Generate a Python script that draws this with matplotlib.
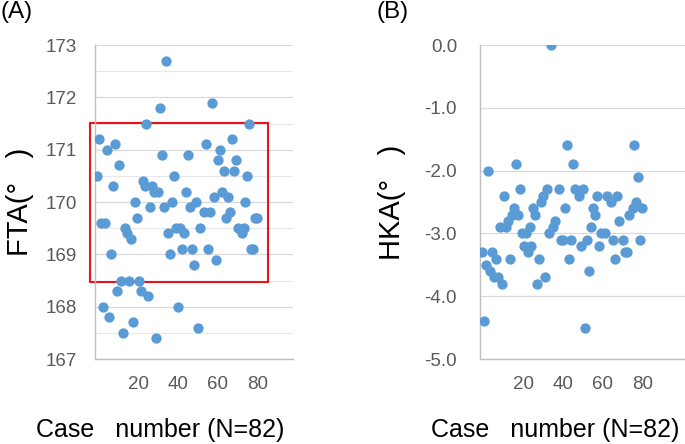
import matplotlib
matplotlib.use("Agg")
import matplotlib.pyplot as plt
from matplotlib.patches import Rectangle
from matplotlib.ticker import MultipleLocator
from matplotlib.transforms import ScaledTranslation

plt.rcParams['font.family'] = ['Liberation Sans', 'DejaVu Sans']
plt.rcParams['axes.unicode_minus'] = False

# (A) femorotibial angle by case
fta_case = [1, 2, 3, 4, 5, 6, 7, 8, 9, 10, 11, 12, 13, 14, 15, 16, 17, 18, 19, 20,
            21, 22, 23, 24, 25, 26, 27, 28, 29, 30, 31, 32, 33, 34, 35, 36, 37, 38, 39, 40,
            41, 42, 43, 44, 45, 46, 47, 48, 49, 50, 51, 52, 53, 55, 56, 57, 58, 59, 60, 61,
            62, 63, 64, 65, 66, 67, 68, 69, 70, 71, 72, 74, 75, 76, 77, 78, 79, 80, 81, 82]
fta = [170.5, 171.2, 169.6, 168.0, 169.6, 171.0, 167.8, 169.0, 170.3, 171.1,
       168.3, 170.7, 168.5, 167.5, 169.5, 169.4, 168.5, 169.3, 167.7, 170.0,
       169.7, 168.5, 168.3, 170.4, 170.3, 171.5, 168.2, 169.9, 170.3, 170.2,
       167.4, 170.2, 171.8, 170.9, 169.9, 172.7, 169.4, 169.0, 170.0, 170.5,
       169.5, 168.0, 169.5, 169.1, 169.4, 170.2, 170.9, 169.9, 169.1, 168.8,
       170.0, 167.6, 169.5, 169.8, 171.1, 169.1, 169.8, 171.9, 170.1, 168.9,
       170.8, 171.0, 170.2, 170.6, 169.7, 170.1, 169.8, 171.2, 170.6, 170.8,
       169.5, 169.4, 169.5, 170.0, 170.5, 171.5, 169.1, 169.1, 169.7, 169.7]

# (B) hip-knee-ankle angle by case
hka_case = [1, 2, 3, 4, 5, 6, 7, 8, 9, 10, 11, 12, 13, 14, 15, 16, 17, 18, 19, 20,
            21, 22, 23, 24, 25, 26, 27, 28, 29, 30, 31, 32, 33, 34, 35, 36, 37, 38, 40, 41,
            42, 43, 44, 45, 46, 47, 48, 50, 51, 52, 53, 54, 55, 56, 57, 58, 59, 60, 61, 63,
            64, 66, 67, 68, 69, 70, 72, 73, 74, 75, 77, 78, 79, 80, 81, 82]
hka = [-3.3, -4.4, -3.5, -2.0, -3.6, -3.3, -3.7, -3.4, -3.7, -2.9,
       -3.8, -2.4, -2.9, -2.8, -3.4, -2.7, -2.6, -1.9, -2.7, -2.3,
       -3.0, -3.2, -3.0, -3.3, -2.9, -3.2, -2.6, -2.7, -3.8, -3.4,
       -2.5, -2.4, -3.7, -2.3, -3.0, 0.0, -2.9, -2.8, -2.3, -3.1,
       -3.1, -2.6, -1.6, -3.4, -3.1, -1.9, -2.3, -2.4, -3.2, -2.3,
       -4.5, -3.1, -3.6, -2.9, -2.6, -2.7, -2.4, -3.2, -3.0, -3.0,
       -2.4, -2.5, -3.1, -3.4, -2.4, -2.8, -3.1, -3.3, -3.3, -2.7,
       -2.6, -1.6, -2.5, -2.1, -3.1, -2.6]

x_ticks = [20, 40, 60, 80]
fta_ticks = [167, 168, 169, 170, 171, 172, 173]
hka_ticks = [-5, -4, -3, -2, -1, 0]
xlabel = "Case   number (N=82)"

W, H = 685, 444
dot = "#5B9BD5"
tick_col = "#595959"

fig = plt.figure(figsize=(W / 100, H / 100), dpi=100)
axA = fig.add_axes([95 / W, 85 / H, 198 / W, 314 / H])
axB = fig.add_axes([480 / W, 85 / H, 205 / W, 314 / H])


def style(ax, pad):
    for s in ["top", "right"]:
        ax.spines[s].set_visible(False)
    for s in ["left", "bottom"]:
        ax.spines[s].set_color("#bfbfbf")
        ax.spines[s].set_linewidth(1.0)
    ax.tick_params(axis="both", length=0, labelsize=13.5, colors=tick_col)
    ax.tick_params(axis="y", pad=pad)
    ax.tick_params(axis="x", pad=12)
    ax.set_xticks(x_ticks)
    # labels sit a few px right of the ticks in the original
    shift = ScaledTranslation(4 / 100, 0, fig.dpi_scale_trans)
    for lab in ax.get_xticklabels():
        lab.set_transform(lab.get_transform() + shift)
    ax.set_axisbelow(True)


# panel A
axA.grid(axis="y", which="major", color="#d9d9d9", lw=0.9)
axA.grid(axis="y", which="minor", color="#e8e8e8", lw=0.9)
axA.scatter(fta_case, fta, s=55, color=dot, zorder=3, linewidths=0)
axA.set_xlim(0, 100)
axA.set_ylim(167, 173)
axA.set_yticks(fta_ticks)
axA.yaxis.set_minor_locator(MultipleLocator(0.5))
axA.tick_params(axis="y", which="minor", length=0)
style(axA, 13)
axA.add_patch(Rectangle((-2.5, 168.47), 89.9, 3.04, fill=False, edgecolor="#e8141b",
                        lw=1.5, clip_on=False, zorder=2))

# panel B
axB.grid(axis="y", color="#d9d9d9", lw=0.9)
axB.scatter(hka_case, hka, s=55, color=dot, zorder=3, linewidths=0)
axB.set_xlim(0, 103.5)
axB.set_ylim(-5, 0)
axB.set_yticks(hka_ticks)
axB.set_yticklabels([f"{v:.1f}" for v in hka_ticks])
style(axB, 16.5)

# labels
fig.text(0 / W, 1 - 1 / H, "(A)", fontsize=17.5, ha="left", va="top")
fig.text(376 / W, 1 - 1 / H, "(B)", fontsize=17.5, ha="left", va="top")
fig.text(20 / W, 1 - 202 / H, "FTA(°   )", fontsize=21, rotation=90, ha="center", va="center")
fig.text(392 / W, 1 - 202 / H, "HKA(°   )", fontsize=21, rotation=90, ha="center", va="center")
fig.text(160 / W, 1 - 430 / H, xlabel, fontsize=18, ha="center", va="center")
fig.text(555 / W, 1 - 430 / H, xlabel, fontsize=18, ha="center", va="center")

fig.savefig("out.png", dpi=100)
